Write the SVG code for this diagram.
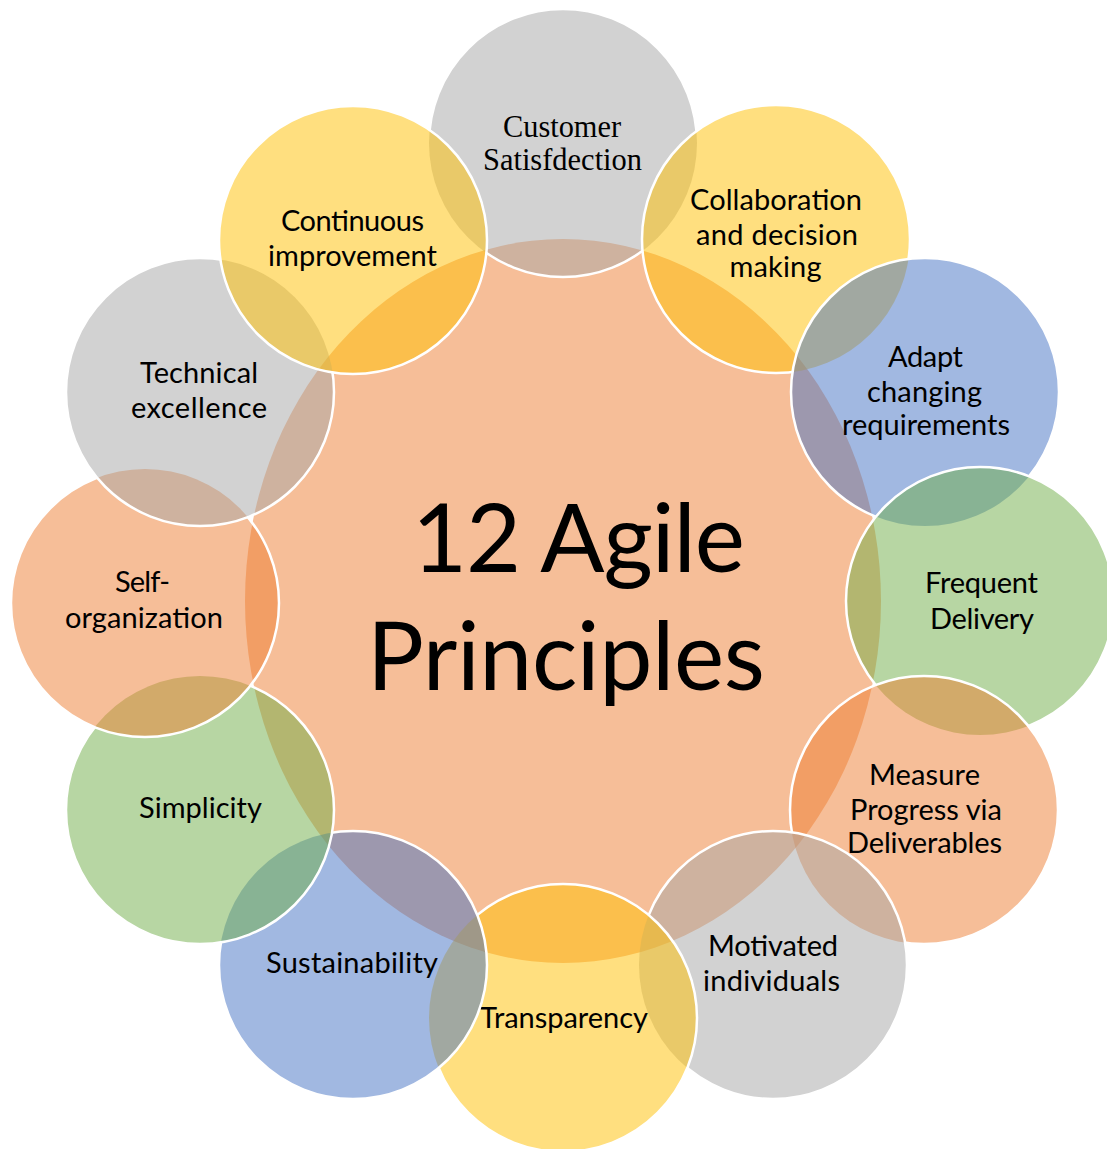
<svg xmlns="http://www.w3.org/2000/svg" width="1107" height="1149" viewBox="0 0 1107 1149">
  <style>
    .fill { stroke: none; fill-opacity: 0.5; }
    .ring { fill: none; stroke: #ffffff; stroke-width: 2.5; }
    .gray { fill: #A5A5A5; }
    .gold { fill: #FFC000; }
    .blue { fill: #4472C4; }
    .green { fill: #70AD47; }
    .orange { fill: #ED7D31; }
    .lbl { font-family: Lato, "Open Sans", "Liberation Sans", sans-serif; font-size: 29px; fill: #000; text-anchor: middle; }
    .serif { font-family: "Liberation Serif", "DejaVu Serif", serif; font-size: 32px; fill: #000; text-anchor: middle; }
    .title { font-family: Lato, "Open Sans", "Liberation Sans", sans-serif; font-size: 95px; fill: #000; text-anchor: middle; }
  </style>
  <defs>
    <!-- each outline is hidden wherever a circle painted after it lies on top -->
    <mask id="m0" maskUnits="userSpaceOnUse" x="0" y="0" width="1107" height="1149">
      <rect width="1107" height="1149" fill="#fff"/>
      <g fill="#000">
        <circle cx="776" cy="239" r="134"/><circle cx="925" cy="392" r="134"/><circle cx="980" cy="601" r="134"/>
        <circle cx="924" cy="810" r="134"/><circle cx="773" cy="965" r="134"/><circle cx="563" cy="1018" r="134"/>
        <circle cx="353" cy="965" r="134"/><circle cx="200" cy="810" r="134"/><circle cx="145" cy="603" r="134"/>
        <circle cx="200" cy="392" r="134"/><circle cx="353" cy="240" r="134"/>
      </g>
    </mask>
    <mask id="m1" maskUnits="userSpaceOnUse" x="0" y="0" width="1107" height="1149">
      <rect width="1107" height="1149" fill="#fff"/>
      <g fill="#000">
        <circle cx="925" cy="392" r="134"/><circle cx="980" cy="601" r="134"/>
        <circle cx="924" cy="810" r="134"/><circle cx="773" cy="965" r="134"/><circle cx="563" cy="1018" r="134"/>
        <circle cx="353" cy="965" r="134"/><circle cx="200" cy="810" r="134"/><circle cx="145" cy="603" r="134"/>
        <circle cx="200" cy="392" r="134"/><circle cx="353" cy="240" r="134"/>
      </g>
    </mask>
    <mask id="m2" maskUnits="userSpaceOnUse" x="0" y="0" width="1107" height="1149">
      <rect width="1107" height="1149" fill="#fff"/>
      <g fill="#000">
        <circle cx="980" cy="601" r="134"/>
        <circle cx="924" cy="810" r="134"/><circle cx="773" cy="965" r="134"/><circle cx="563" cy="1018" r="134"/>
        <circle cx="353" cy="965" r="134"/><circle cx="200" cy="810" r="134"/><circle cx="145" cy="603" r="134"/>
        <circle cx="200" cy="392" r="134"/><circle cx="353" cy="240" r="134"/>
      </g>
    </mask>
    <mask id="m3" maskUnits="userSpaceOnUse" x="0" y="0" width="1107" height="1149">
      <rect width="1107" height="1149" fill="#fff"/>
      <g fill="#000">
        <circle cx="924" cy="810" r="134"/><circle cx="773" cy="965" r="134"/><circle cx="563" cy="1018" r="134"/>
        <circle cx="353" cy="965" r="134"/><circle cx="200" cy="810" r="134"/><circle cx="145" cy="603" r="134"/>
        <circle cx="200" cy="392" r="134"/><circle cx="353" cy="240" r="134"/>
      </g>
    </mask>
    <mask id="m4" maskUnits="userSpaceOnUse" x="0" y="0" width="1107" height="1149">
      <rect width="1107" height="1149" fill="#fff"/>
      <g fill="#000">
        <circle cx="773" cy="965" r="134"/><circle cx="563" cy="1018" r="134"/>
        <circle cx="353" cy="965" r="134"/><circle cx="200" cy="810" r="134"/><circle cx="145" cy="603" r="134"/>
        <circle cx="200" cy="392" r="134"/><circle cx="353" cy="240" r="134"/>
      </g>
    </mask>
    <mask id="m5" maskUnits="userSpaceOnUse" x="0" y="0" width="1107" height="1149">
      <rect width="1107" height="1149" fill="#fff"/>
      <g fill="#000">
        <circle cx="563" cy="1018" r="134"/>
        <circle cx="353" cy="965" r="134"/><circle cx="200" cy="810" r="134"/><circle cx="145" cy="603" r="134"/>
        <circle cx="200" cy="392" r="134"/><circle cx="353" cy="240" r="134"/>
      </g>
    </mask>
    <mask id="m6" maskUnits="userSpaceOnUse" x="0" y="0" width="1107" height="1149">
      <rect width="1107" height="1149" fill="#fff"/>
      <g fill="#000">
        <circle cx="353" cy="965" r="134"/><circle cx="200" cy="810" r="134"/><circle cx="145" cy="603" r="134"/>
        <circle cx="200" cy="392" r="134"/><circle cx="353" cy="240" r="134"/>
      </g>
    </mask>
    <mask id="m7" maskUnits="userSpaceOnUse" x="0" y="0" width="1107" height="1149">
      <rect width="1107" height="1149" fill="#fff"/>
      <g fill="#000">
        <circle cx="200" cy="810" r="134"/><circle cx="145" cy="603" r="134"/>
        <circle cx="200" cy="392" r="134"/><circle cx="353" cy="240" r="134"/>
      </g>
    </mask>
    <mask id="m8" maskUnits="userSpaceOnUse" x="0" y="0" width="1107" height="1149">
      <rect width="1107" height="1149" fill="#fff"/>
      <g fill="#000">
        <circle cx="145" cy="603" r="134"/>
        <circle cx="200" cy="392" r="134"/><circle cx="353" cy="240" r="134"/>
      </g>
    </mask>
    <mask id="m9" maskUnits="userSpaceOnUse" x="0" y="0" width="1107" height="1149">
      <rect width="1107" height="1149" fill="#fff"/>
      <g fill="#000">
        <circle cx="200" cy="392" r="134"/><circle cx="353" cy="240" r="134"/>
      </g>
    </mask>
    <mask id="m10" maskUnits="userSpaceOnUse" x="0" y="0" width="1107" height="1149">
      <rect width="1107" height="1149" fill="#fff"/>
      <circle cx="353" cy="240" r="134" fill="#000"/>
    </mask>
  </defs>

  <rect width="1107" height="1149" fill="#ffffff"/>

  <!-- hub -->
  <g id="node-hub">
    <ellipse class="fill orange" cx="563" cy="601" rx="318" ry="362"/>
    <text class="title" x="578.5" y="572" textLength="333" lengthAdjust="spacing">12 Agile</text>
    <text class="title" x="566" y="690" textLength="398" lengthAdjust="spacing">Principles</text>
  </g>

  <!-- principles, painted clockwise from the top -->
  <g id="node-customer-satisfaction">
    <circle class="fill gray" cx="563" cy="143" r="134"/>
    <circle class="ring" cx="563" cy="143" r="134" mask="url(#m0)"/>
    <text class="serif" x="562" y="137" textLength="118" lengthAdjust="spacingAndGlyphs">Customer</text>
    <text class="serif" x="562.5" y="170" textLength="159" lengthAdjust="spacingAndGlyphs">Satisfdection</text>
  </g>
  <g id="node-collaboration">
    <circle class="fill gold" cx="776" cy="239" r="134"/>
    <circle class="ring" cx="776" cy="239" r="134" mask="url(#m1)"/>
    <text class="lbl" x="776" y="210" textLength="172" lengthAdjust="spacing">Collaboration</text>
    <text class="lbl" x="777" y="245" textLength="162" lengthAdjust="spacing">and decision</text>
    <text class="lbl" x="775.5" y="277" textLength="92" lengthAdjust="spacing">making</text>
  </g>
  <g id="node-adapt">
    <circle class="fill blue" cx="925" cy="392" r="134"/>
    <circle class="ring" cx="925" cy="392" r="134" mask="url(#m2)"/>
    <text class="lbl" x="925.5" y="367" textLength="75" lengthAdjust="spacing">Adapt</text>
    <text class="lbl" x="924.5" y="402" textLength="115" lengthAdjust="spacing">changing</text>
    <text class="lbl" x="926" y="435" textLength="168" lengthAdjust="spacing">requirements</text>
  </g>
  <g id="node-frequent-delivery">
    <circle class="fill green" cx="980" cy="601" r="134"/>
    <circle class="ring" cx="980" cy="601" r="134" mask="url(#m3)"/>
    <text class="lbl" x="981.5" y="593" textLength="113" lengthAdjust="spacing">Frequent</text>
    <text class="lbl" x="982" y="629" textLength="104" lengthAdjust="spacing">Delivery</text>
  </g>
  <g id="node-measure-progress">
    <circle class="fill orange" cx="924" cy="810" r="134"/>
    <circle class="ring" cx="924" cy="810" r="134" mask="url(#m4)"/>
    <text class="lbl" x="924.5" y="785" textLength="111" lengthAdjust="spacing">Measure</text>
    <text class="lbl" x="926" y="820" textLength="152" lengthAdjust="spacing">Progress via</text>
    <text class="lbl" x="924.5" y="853" textLength="155" lengthAdjust="spacing">Deliverables</text>
  </g>
  <g id="node-motivated">
    <circle class="fill gray" cx="773" cy="965" r="134"/>
    <circle class="ring" cx="773" cy="965" r="134" mask="url(#m5)"/>
    <text class="lbl" x="773" y="956" textLength="130" lengthAdjust="spacing">Motivated</text>
    <text class="lbl" x="771.5" y="991" textLength="137" lengthAdjust="spacing">individuals</text>
  </g>
  <g id="node-transparency">
    <circle class="fill gold" cx="563" cy="1018" r="134"/>
    <circle class="ring" cx="563" cy="1018" r="134" mask="url(#m6)"/>
    <text class="lbl" x="564" y="1028" textLength="168" lengthAdjust="spacing">Transparency</text>
  </g>
  <g id="node-sustainability">
    <circle class="fill blue" cx="353" cy="965" r="134"/>
    <circle class="ring" cx="353" cy="965" r="134" mask="url(#m7)"/>
    <text class="lbl" x="352" y="973" textLength="172" lengthAdjust="spacing">Sustainability</text>
  </g>
  <g id="node-simplicity">
    <circle class="fill green" cx="200" cy="810" r="134"/>
    <circle class="ring" cx="200" cy="810" r="134" mask="url(#m8)"/>
    <text class="lbl" x="200.5" y="818" textLength="123" lengthAdjust="spacing">Simplicity</text>
  </g>
  <g id="node-self-organization">
    <circle class="fill orange" cx="145" cy="603" r="134"/>
    <circle class="ring" cx="145" cy="603" r="134" mask="url(#m9)"/>
    <text class="lbl" x="142.5" y="592" textLength="55" lengthAdjust="spacing">Self-</text>
    <text class="lbl" x="144" y="628" textLength="158" lengthAdjust="spacing">organization</text>
  </g>
  <g id="node-technical-excellence">
    <circle class="fill gray" cx="200" cy="392" r="134"/>
    <circle class="ring" cx="200" cy="392" r="134" mask="url(#m10)"/>
    <text class="lbl" x="199" y="383" textLength="118" lengthAdjust="spacing">Technical</text>
    <text class="lbl" x="199" y="418" textLength="136" lengthAdjust="spacing">excellence</text>
  </g>
  <g id="node-continuous-improvement">
    <circle class="fill gold" cx="353" cy="240" r="134"/>
    <circle class="ring" cx="353" cy="240" r="134"/>
    <text class="lbl" x="352.5" y="231" textLength="143" lengthAdjust="spacing">Continuous</text>
    <text class="lbl" x="352.5" y="266" textLength="169" lengthAdjust="spacing">improvement</text>
  </g>
</svg>
